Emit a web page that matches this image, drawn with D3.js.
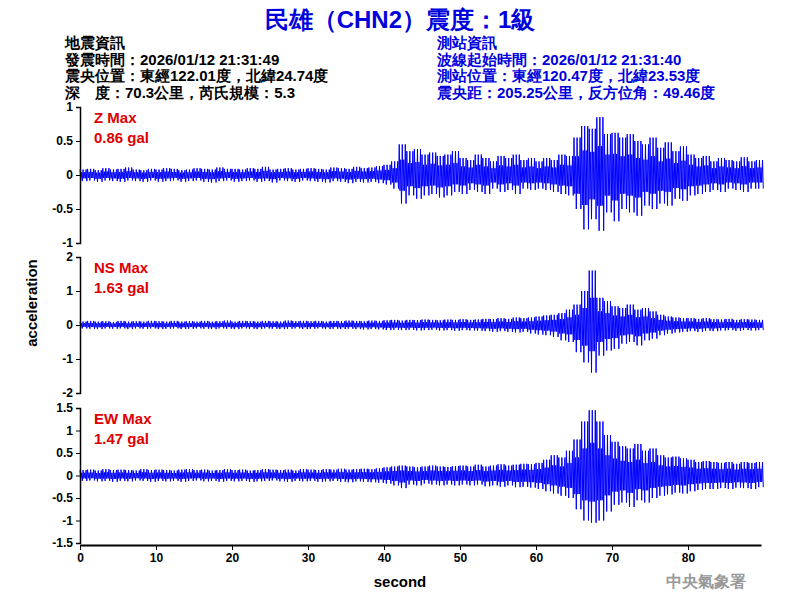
<!DOCTYPE html><html><head><meta charset="utf-8"><script src="https://d3js.org/d3.v7.min.js"></script>
<style>body{margin:0;background:#fff}text{font-family:Arial,"Liberation Sans",sans-serif}</style></head><body><svg id="c" width="800" height="600"></svg><script>
const seconds=d3.range(90);
const zUp=[.08,.09,.07,.1,.08,.09,.11,.08,.07,.09,.08,.1,.09,.07,.08,.1,.09,.08,.11,.09,.09,.08,.1,.09,.12,.08,.09,.1,.08,.09,.1,.09,.08,.11,.1,.09,.12,.1,.11,.13,.15,.2,.45,.35,.38,.3,.33,.28,.3,.35,.25,.22,.3,.25,.2,.28,.25,.3,.22,.25,.2,.25,.22,.3,.28,.55,.72,.68,.85,.6,.62,.55,.6,.5,.45,.55,.4,.48,.35,.42,.3,.25,.28,.2,.25,.22,.2,.26,.2,.22];
const zLo=[-.09,-.08,-.1,-.08,-.09,-.1,-.08,-.09,-.1,-.08,-.1,-.09,-.08,-.1,-.09,-.08,-.1,-.11,-.09,-.08,-.1,-.09,-.08,-.1,-.09,-.11,-.08,-.09,-.1,-.08,-.09,-.1,-.11,-.09,-.1,-.12,-.1,-.11,-.1,-.12,-.14,-.2,-.42,-.3,-.35,-.3,-.28,-.33,-.3,-.25,-.28,-.22,-.25,-.28,-.2,-.25,-.22,-.28,-.2,-.22,-.2,-.22,-.25,-.28,-.3,-.5,-.8,-.65,-.82,-.55,-.68,-.5,-.55,-.6,-.45,-.5,-.42,-.45,-.35,-.38,-.3,-.28,-.25,-.22,-.25,-.2,-.22,-.25,-.2,-.2];
const nsUp=[.1,.12,.1,.11,.09,.12,.1,.11,.1,.12,.11,.1,.12,.1,.11,.1,.12,.1,.11,.13,.1,.12,.11,.1,.12,.11,.1,.13,.11,.12,.11,.12,.1,.12,.11,.13,.12,.11,.13,.12,.14,.15,.13,.15,.14,.16,.15,.14,.16,.15,.17,.15,.16,.18,.17,.2,.18,.22,.2,.22,.25,.28,.3,.35,.45,.6,1.0,1.6,.8,.7,.55,.5,.6,.45,.5,.4,.3,.25,.22,.2,.2,.18,.2,.17,.16,.18,.15,.17,.16,.15];
const nsLo=[-.1,-.11,-.12,-.1,-.11,-.1,-.12,-.1,-.11,-.1,-.12,-.11,-.1,-.12,-.11,-.1,-.11,-.12,-.1,-.11,-.12,-.1,-.11,-.12,-.1,-.11,-.12,-.11,-.1,-.12,-.11,-.1,-.12,-.11,-.12,-.11,-.12,-.13,-.12,-.13,-.15,-.14,-.15,-.14,-.16,-.15,-.14,-.16,-.15,-.17,-.15,-.16,-.17,-.18,-.2,-.18,-.2,-.22,-.2,-.25,-.28,-.3,-.35,-.45,-.5,-.8,-1.1,-1.4,-.9,-.75,-.7,-.55,-.5,-.6,-.45,-.4,-.3,-.25,-.22,-.2,-.18,-.2,-.17,-.18,-.16,-.15,-.17,-.15,-.16,-.15];
const ewUp=[.12,.13,.11,.14,.12,.13,.12,.11,.14,.12,.13,.12,.11,.13,.14,.12,.13,.11,.12,.14,.12,.13,.11,.12,.14,.13,.12,.13,.11,.14,.13,.12,.14,.13,.15,.13,.14,.15,.14,.16,.18,.2,.22,.2,.18,.2,.22,.2,.19,.21,.22,.2,.24,.2,.22,.25,.22,.24,.26,.25,.28,.35,.45,.4,.55,.8,1.2,1.45,1.2,.9,.75,.65,.6,.7,.55,.6,.45,.4,.42,.38,.35,.3,.32,.3,.28,.3,.26,.3,.28,.3];
const ewLo=[-.12,-.11,-.13,-.12,-.14,-.12,-.13,-.11,-.12,-.14,-.12,-.13,-.12,-.14,-.12,-.11,-.13,-.12,-.14,-.12,-.13,-.12,-.14,-.13,-.12,-.11,-.13,-.14,-.12,-.13,-.12,-.14,-.13,-.12,-.14,-.15,-.13,-.14,-.15,-.16,-.18,-.22,-.28,-.2,-.22,-.18,-.2,-.22,-.2,-.22,-.2,-.22,-.2,-.24,-.22,-.25,-.22,-.26,-.25,-.27,-.3,-.35,-.4,-.45,-.5,-.75,-1.0,-1.05,-1.0,-.8,-.65,-.6,-.7,-.55,-.6,-.5,-.45,-.42,-.38,-.4,-.35,-.32,-.3,-.3,-.28,-.3,-.27,-.28,-.3,-.26];
const xTicks=[0,10,20,30,40,50,60,70,80];
const panels=[
 {up:zUp,lo:zLo,dom:[-1,1],ticks:[-1,-0.5,0,0.5,1],top:107,bot:243,l1:"Z Max",l2:"0.86 gal"},
 {up:nsUp,lo:nsLo,dom:[-2,2],ticks:[-2,-1,0,1,2],top:257,bot:393,l1:"NS Max",l2:"1.63 gal"},
 {up:ewUp,lo:ewLo,dom:[-1.5,1.5],ticks:[-1.5,-1,-0.5,0,0.5,1,1.5],top:408,bot:543,l1:"EW Max",l2:"1.47 gal"}];
const svg=d3.select("#c");
const x=d3.scaleLinear().domain([0,89.6]).range([80,761]);
const fmt=d=>String(d);
panels.forEach(p=>{
 const y=d3.scaleLinear().domain(p.dom).range([p.bot,p.top]);
 const g=svg.append("g");
 const pts=[];
 seconds.forEach(i=>{const n=10;for(let k=0;k<n;k++){const t=i+k/n;pts.push([t,k%2?p.lo[i]*((k%3)?0.55:1):p.up[i]*((k%4)?0.5:1)]);}});
 g.append("path").datum(pts).attr("fill","none").attr("stroke","#0000ff").attr("stroke-width",1)
  .attr("d",d3.line().x(d=>x(d[0])).y(d=>y(d[1])));
 const ax=g.append("g").attr("transform","translate(80,0)").call(d3.axisLeft(y).tickValues(p.ticks).tickSize(4).tickFormat(fmt));
 ax.selectAll("text").attr("font-size",12).attr("fill","#000").attr("font-weight","bold").attr("font-family","Arial");
 ax.select(".domain").attr("stroke-width",1.5);
 svg.append("text").attr("x",94).attr("y",p.top+16).attr("fill","#e00000").attr("font-size",15).attr("font-weight","bold").text(p.l1);
 svg.append("text").attr("x",94).attr("y",p.top+36).attr("fill","#e00000").attr("font-size",15).attr("font-weight","bold").text(p.l2);
});
const xa=svg.append("g").attr("transform","translate(0,545)").call(d3.axisBottom(x).tickValues(xTicks).tickSize(5).tickSizeOuter(0));
xa.selectAll("text").attr("font-size",12).attr("fill","#000").attr("font-weight","bold").attr("font-family","Arial");
xa.select(".domain").attr("stroke-width",2);
svg.append("text").attr("x",400).attr("y",587).attr("text-anchor","middle").attr("font-size",15).attr("font-weight","bold").text("second");
svg.append("text").attr("transform","translate(37,303) rotate(-90)").attr("text-anchor","middle").attr("font-size",15).attr("font-weight","bold").text("acceleration");
svg.append("text").attr("x",400).attr("y",28).attr("text-anchor","middle").attr("font-size",24).attr("font-weight","bold").attr("fill","#0000dd").attr("font-family","Arial,'Noto Sans CJK TC'").text("民雄（CHN2）震度：1級");
const leftInfo=["地震資訊","發震時間：2026/01/12 21:31:49","震央位置：東經122.01度，北緯24.74度","深　度：70.3公里，芮氏規模：5.3"];
const rightInfo=["測站資訊","波線起始時間：2026/01/12 21:31:40","測站位置：東經120.47度，北緯23.53度","震央距：205.25公里，反方位角：49.46度"];
const inf=(arr,x0,col)=>arr.forEach((t,i)=>svg.append("text").attr("x",x0).attr("y",48+i*16.5).attr("font-size",15).attr("font-weight","bold").attr("font-family","'Noto Sans CJK TC',Arial").attr("fill",col).text(t));
inf(leftInfo,65,"#000");inf(rightInfo,437,"#0000dd");
svg.append("text").attr("x",746).attr("y",587).attr("text-anchor","end").attr("font-size",16).attr("font-weight","bold").attr("fill","#999").attr("font-family","'Noto Sans CJK TC'").text("中央氣象署");
</script></body></html>
